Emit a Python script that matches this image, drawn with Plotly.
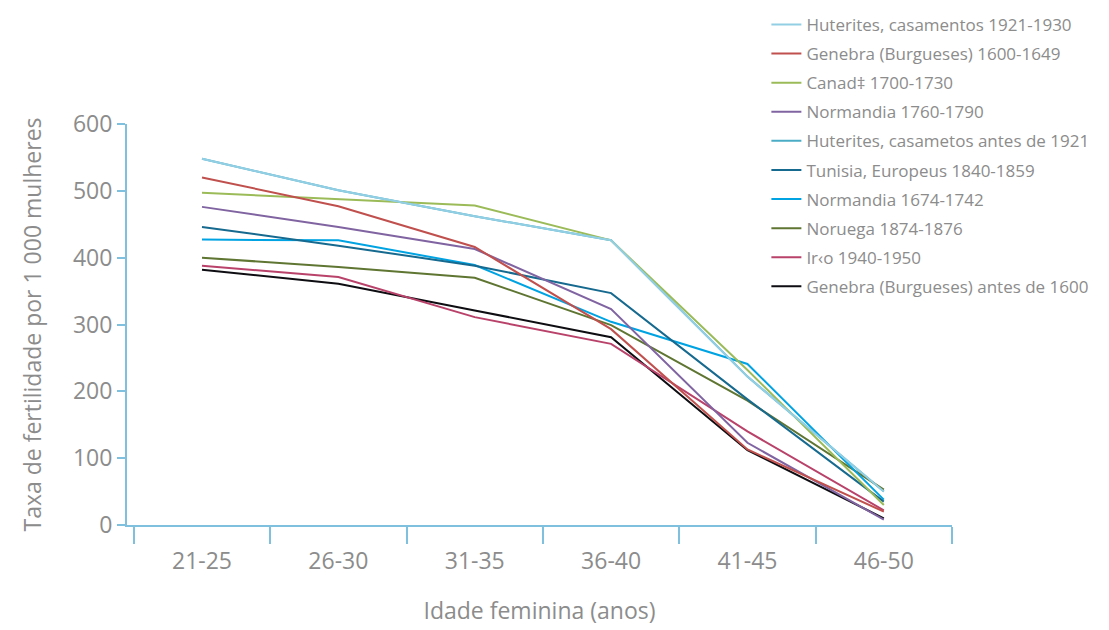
import plotly.graph_objects as go

categories = ["21-25", "26-30", "31-35", "36-40", "41-45", "46-50"]

series_names = [
    "Huterites, casamentos 1921-1930",
    "Genebra (Burgueses) 1600-1649",
    "Canad‡ 1700-1730",
    "Normandia 1760-1790",
    "Huterites, casametos antes de 1921",
    "Tunisia, Europeus 1840-1859",
    "Normandia 1674-1742",
    "Noruega 1874-1876",
    "Ir‹o 1940-1950",
    "Genebra (Burgueses) antes de 1600",
]

huterites_1921_1930 = [548, 501, 462, 426, 222, 50]
genebra_1600_1649 = [520, 477, 416, 293, 113, 20]
canada_1700_1730 = [497, 488, 478, 426, 232, 30]
normandia_1760_1790 = [476, 446, 413, 323, 123, 8]
huterites_antes_1921 = [548, 501, 462, 426, 222, 50]
tunisia_1840_1859 = [446, 418, 388, 347, 188, 35]
normandia_1674_1742 = [427, 426, 389, 304, 241, 38]
noruega_1874_1876 = [400, 386, 370, 299, 186, 53]
irao_1940_1950 = [388, 371, 311, 271, 140, 22]
genebra_antes_1600 = [382, 361, 321, 281, 112, 10]

series_values = [
    huterites_1921_1930, genebra_1600_1649, canada_1700_1730, normandia_1760_1790,
    huterites_antes_1921, tunisia_1840_1859, normandia_1674_1742, noruega_1874_1876,
    irao_1940_1950, genebra_antes_1600,
]

colors = ["#93cfe4", "#c0504d", "#9bbb59", "#8064a2", "#4bacc6",
          "#16698f", "#00a3e2", "#5f7532", "#b9426a", "#0d0d12"]

# drawing order (the "antes de 1921" series lies beneath the 1921-1930 one)
draw_order = [4, 9, 8, 7, 6, 5, 3, 2, 1, 0]

fig = go.Figure()
for i in draw_order:
    fig.add_trace(go.Scatter(
        x=categories, y=series_values[i], mode="lines",
        name=series_names[i], legendgroup=f"g{i}", legendrank=i + 1,
        line=dict(color=colors[i], width=2),
    ))

axis_color = "#7fc0de"
grey = "#8c8c8c"

fig.update_layout(
    width=1109, height=630,
    paper_bgcolor="white", plot_bgcolor="white",
    margin=dict(l=119, r=165, t=116, b=113, autoexpand=False),
    font=dict(family="Open Sans", color=grey, size=23),
    legend=dict(
        x=0.775, y=1.292, xanchor="left", yanchor="top",
        font=dict(size=17, color=grey, family="Open Sans"),
        traceorder="grouped", tracegroupgap=4,
        bgcolor="rgba(0,0,0,0)",
    ),
    xaxis=dict(
        type="category", range=[-0.55, 5.5],
        showgrid=False, zeroline=False,
        showline=True, linecolor=axis_color, linewidth=2,
        ticks="outside", tickson="boundaries", ticklen=17, tickwidth=2, tickcolor=axis_color,
        ticklabelstandoff=14,
        tickfont=dict(size=23, color=grey),
        title=dict(text="Idade feminina (anos)", font=dict(size=23, color=grey), standoff=28),
    ),
    yaxis=dict(
        range=[0, 600], tickvals=[0, 100, 200, 300, 400, 500, 600],
        showgrid=False, zeroline=False,
        showline=True, linecolor=axis_color, linewidth=2,
        ticks="outside", ticklen=8, tickwidth=2, tickcolor=axis_color,
        tickfont=dict(size=23, color=grey),
        title=dict(text="Taxa de fertilidade por 1 000 mulheres", font=dict(size=23, color=grey), standoff=25),
    ),
)

fig.write_html("out.html")
